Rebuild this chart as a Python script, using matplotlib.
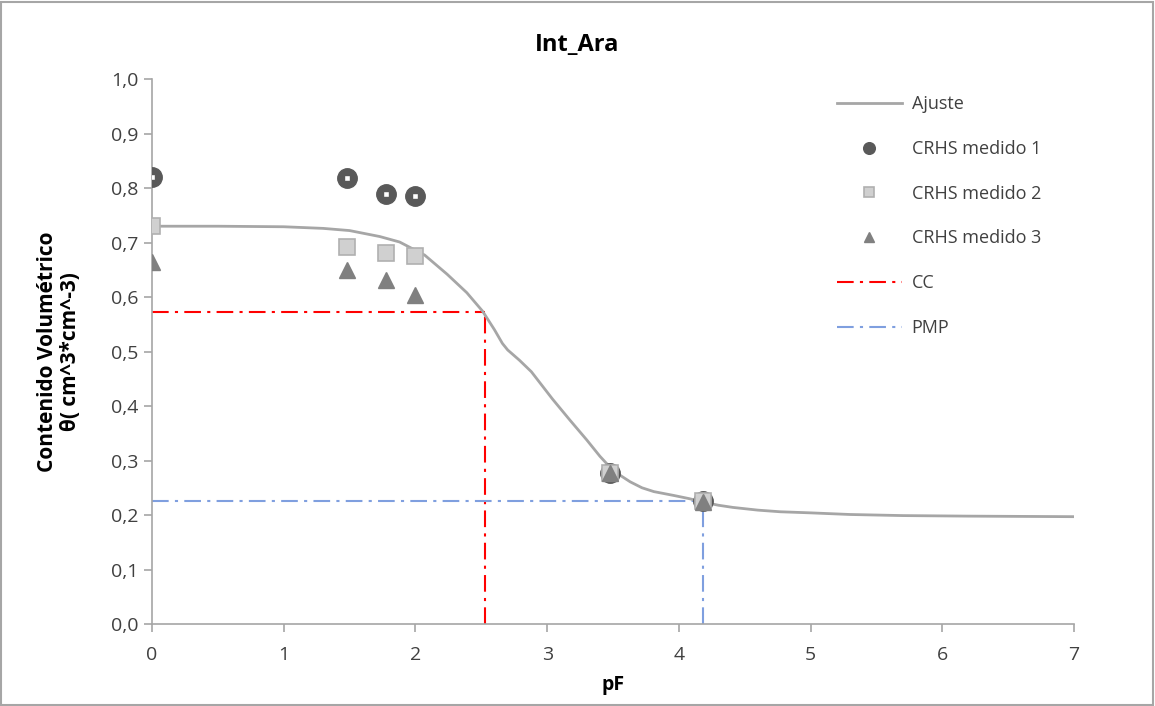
import matplotlib.pyplot as plt
from matplotlib.patches import Rectangle
from matplotlib.ticker import FuncFormatter

plt.rcParams['font.family'] = ['Open Sans', 'DejaVu Sans']

# Fitted curve
ajuste_pf = [0, 0.5, 1.0, 1.3, 1.5, 1.73, 1.88, 2.07, 2.24, 2.39, 2.51, 2.60,
             2.66, 2.70, 2.79, 2.88, 3.04, 3.17, 3.30, 3.40, 3.48, 3.56, 3.63,
             3.72, 3.81, 3.96, 4.08, 4.18, 4.30, 4.41, 4.60, 4.77, 5.0, 5.3,
             5.7, 6.2, 7.0]
ajuste_theta = [0.730, 0.730, 0.729, 0.726, 0.722, 0.711, 0.701, 0.677, 0.642,
                0.608, 0.574, 0.540, 0.515, 0.503, 0.484, 0.463, 0.413, 0.375,
                0.338, 0.308, 0.287, 0.272, 0.261, 0.250, 0.243, 0.236, 0.230,
                0.224, 0.218, 0.214, 0.209, 0.206, 0.204, 0.201, 0.199, 0.198,
                0.197]

# Measured points
pf_med = [0, 1.48, 1.78, 2.0, 3.48, 4.18]
crhs1 = [0.820, 0.818, 0.790, 0.786, 0.277, 0.225]
crhs2 = [0.730, 0.692, 0.680, 0.676, 0.277, 0.225]
crhs3 = [0.665, 0.650, 0.632, 0.603, 0.277, 0.224]

# Field capacity / wilting point
cc_pf, cc_theta = 2.53, 0.572
pmp_pf, pmp_theta = 4.18, 0.225

dash_dot = (0, (8, 3, 1.5, 3))

fig = plt.figure(figsize=(11.55, 7.06), dpi=100)
ax = fig.add_axes([0.1316, 0.1161, 0.7983, 0.7719])

ax.plot(ajuste_pf, ajuste_theta, color='#a6a6a6', lw=2, label='Ajuste', zorder=3)
ax.plot(pf_med, crhs1, 'o', color='#595959', ms=14, label='CRHS medido 1', zorder=4)
ax.plot(pf_med, crhs1, 's', color='white', mec='#595959', ms=5, mew=1, zorder=4.5)
ax.plot(pf_med, crhs2, 's', color='#d0d0d0', mec='#b0b0b0', ms=12, mew=1.2,
        label='CRHS medido 2', zorder=5)
ax.plot(pf_med, crhs3, '^', color='#808080', ms=12, label='CRHS medido 3', zorder=6)

ax.plot([0, cc_pf], [cc_theta, cc_theta], color='#ff0000', lw=1.5, ls=dash_dot, label='CC', zorder=2)
ax.plot([cc_pf, cc_pf], [0, cc_theta], color='#ff0000', lw=1.5, ls=dash_dot, zorder=2)
ax.plot([0, pmp_pf], [pmp_theta, pmp_theta], color='#7f9fdf', lw=1.5, ls=dash_dot, label='PMP', zorder=2)
ax.plot([pmp_pf, pmp_pf], [0, pmp_theta], color='#7f9fdf', lw=1.5, ls=dash_dot, zorder=2)

ax.set_xlim(0, 7)
ax.set_ylim(0, 1.0)
ax.set_xticks(range(0, 8))
ax.set_yticks([i / 10 for i in range(11)])
ax.yaxis.set_major_formatter(FuncFormatter(lambda v, p: f'{v:.1f}'.replace('.', ',')))

for s in ['top', 'right']:
    ax.spines[s].set_visible(False)
for s in ['left', 'bottom']:
    ax.spines[s].set_color('#a6a6a6')
    ax.spines[s].set_linewidth(1.2)
ax.tick_params(colors='#a6a6a6', labelcolor='#404040', labelsize=14, length=6, width=1.2)
ax.tick_params(axis='x', pad=10)

fig.text(0.5, 0.936, 'Int_Ara', ha='center', va='center', fontsize=17, fontweight='bold')
ax.set_xlabel('pF', fontsize=14, fontweight='bold', labelpad=8)
ax.set_ylabel('Contenido Volumétrico\nθ( cm^3*cm^-3)', fontsize=15, fontweight='bold',
              labelpad=22, linespacing=1.1)

leg = ax.legend(loc='upper left', bbox_to_anchor=(0.725, 1.0), frameon=False, fontsize=13,
                labelspacing=1.48, handlelength=3.6, handletextpad=0.55, markerscale=0.6)
for t in leg.get_texts():
    t.set_color('#404040')

fig.patches.append(Rectangle((0.001, 0.002), 0.997, 0.995, transform=fig.transFigure,
                             fill=False, edgecolor='#a6a6a6', lw=1.5))

fig.savefig('out.png', dpi=100)
